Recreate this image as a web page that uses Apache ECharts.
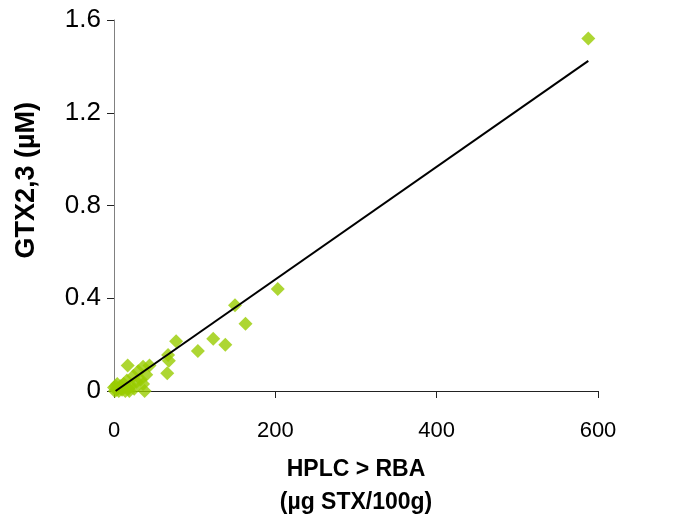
<!DOCTYPE html>
<html>
<head>
<meta charset="utf-8">
<script src="https://cdn.jsdelivr.net/npm/echarts@6/dist/echarts.min.js"></script>
<style>
html,body{margin:0;padding:0;background:#fff;}
#chart{width:678px;height:524px;}
</style>
</head>
<body>
<div id="chart"></div>
<script>
// Data
var xValues = [588, 203, 150, 163, 123, 138, 77, 104, 67, 68, 66, 17, 36, 44, 38,
               30, 24, 16, 36, 28, 20, 12, 8, 5, 3, 1, 0, 2, 6, 10, 14, 18, 25, 33, 40, 19, 4, 9];
var yValues = [1.52, 0.44, 0.37, 0.29, 0.225, 0.20, 0.215, 0.173, 0.155, 0.13, 0.077, 0.11, 0.105, 0.11, 0.0,
               0.085, 0.065, 0.045, 0.03, 0.04, 0.02, 0.03, 0.02, 0.01, 0.005, 0.0, 0.015, 0.02, 0.0, 0.005, 0.0, 0.01, 0.01, 0.05, 0.07, 0.0, 0.03, 0.012];
var trendX = [2, 588];
var trendY = [0.0, 1.424];
var xTicks = [0, 200, 400, 600];
var yTicks = [0, 0.4, 0.8, 1.2, 1.6];
var xTitleLines = ['HPLC > RBA', '(µg STX/100g)'];
var yTitle = 'GTX2,3 (µM)';

var points = xValues.map(function (x, i) { return [x, yValues[i]]; });
var trend = trendX.map(function (x, i) { return [x, trendY[i]]; });

var chart = echarts.init(document.getElementById('chart'));
var font = 'Arial, "Liberation Sans", sans-serif';
chart.setOption({
  animation: false,
  backgroundColor: '#ffffff',
  grid: { left: 114, right: 80, top: 20, bottom: 131, containLabel: false },
  xAxis: {
    type: 'value', min: xTicks[0], max: xTicks[xTicks.length - 1], interval: 200,
    splitLine: { show: false },
    axisLine: { onZero: false, lineStyle: { color: '#222', width: 1 } },
    axisTick: { show: true, inside: false, length: 7, lineStyle: { color: '#222' } },
    axisLabel: { color: '#000', fontSize: 22, fontFamily: font, margin: 29 },
    name: xTitleLines.join('\n'),
    nameLocation: 'middle', nameGap: 62,
    nameTextStyle: { color: '#000', fontSize: 23, fontWeight: 'bold', fontFamily: font, lineHeight: 33 }
  },
  yAxis: {
    type: 'value', min: yTicks[0], max: yTicks[yTicks.length - 1], interval: 0.4,
    splitLine: { show: false },
    axisLine: { onZero: false, lineStyle: { color: '#808080', width: 1 } },
    axisTick: { show: true, inside: false, length: 7, lineStyle: { color: '#222' } },
    axisLabel: { color: '#000', fontSize: 26, fontFamily: font, margin: 13,
      formatter: function (v) { return v === 0 ? '0' : v.toFixed(1); } }
  },
  graphic: [{
    type: 'text', left: 13, top: 102, rotation: Math.PI / 2,
    style: { text: yTitle, fill: '#000', font: 'bold 27px ' + font }
  }],
  series: [{
    type: 'scatter', data: points, symbol: 'diamond', symbolSize: 14,
    itemStyle: { color: '#99cc00' }, z: 2
  }, {
    type: 'line', data: trend, symbol: 'none', z: 3,
    lineStyle: { color: '#000', width: 2 }
  }]
});
</script>
</body>
</html>
